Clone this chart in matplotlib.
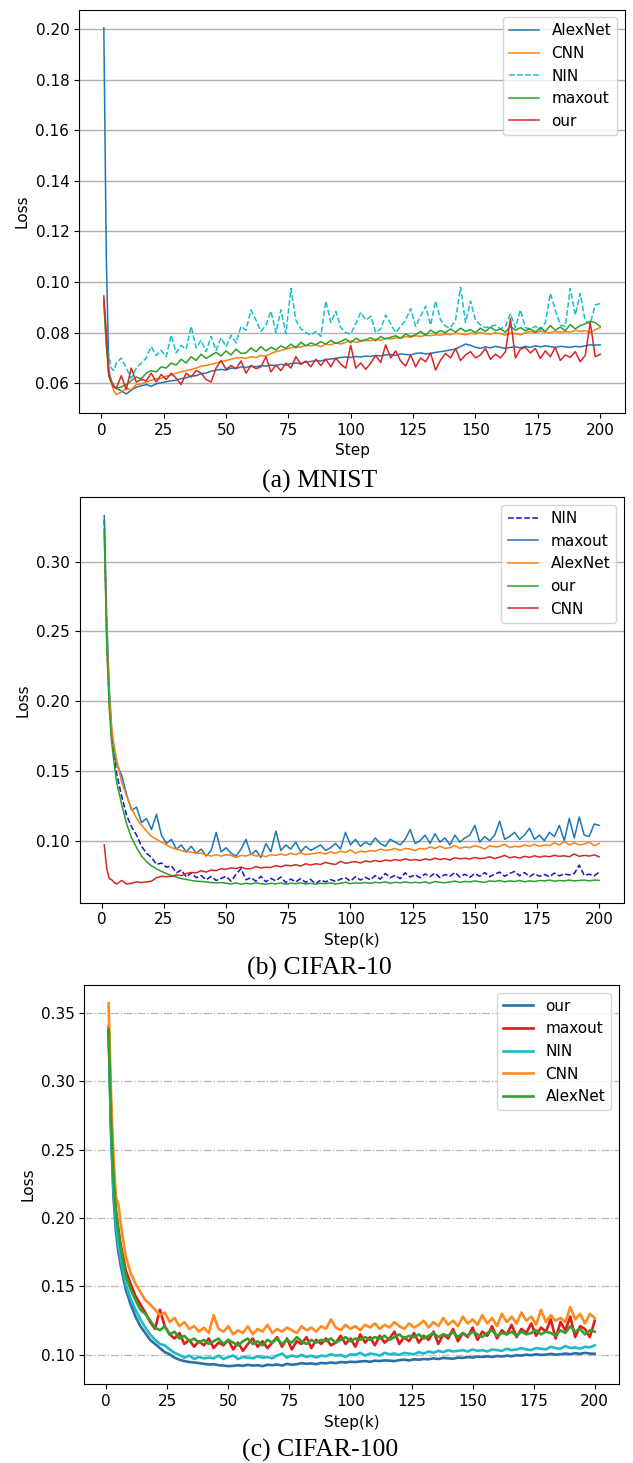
import matplotlib
matplotlib.use("Agg")
import matplotlib.pyplot as plt

# training steps (k) shared by every curve
STEPS = [1, 2, 3, 4, 5, 6] + list(range(8, 201, 2))

# ---- (a) MNIST ----
A_ALEXNET = [0.2005, 0.110, 0.065, 0.061, 0.059, 0.058,
             0.057, 0.0558, 0.0572, 0.0585, 0.059, 0.0595, 0.0588, 0.0598, 0.0602, 0.0606,
             0.061, 0.0612, 0.0618, 0.0622, 0.0628, 0.063, 0.0638, 0.064, 0.0648, 0.0652,
             0.0655, 0.0652, 0.066, 0.0658, 0.0665, 0.0662, 0.0668, 0.0665, 0.067, 0.0668,
             0.0672, 0.067, 0.0675, 0.0672, 0.0678, 0.068, 0.0678, 0.0684, 0.0686, 0.069,
             0.0688, 0.0694, 0.0696, 0.0698, 0.0702, 0.0704, 0.0702, 0.0706, 0.0704, 0.0708,
             0.0706, 0.071, 0.0708, 0.0712, 0.0714, 0.071, 0.0716, 0.0714, 0.0712, 0.0718,
             0.072, 0.0716, 0.0718, 0.0722, 0.0725, 0.0728, 0.0732, 0.0735, 0.0745, 0.0755,
             0.075, 0.0742, 0.0738, 0.0744, 0.074, 0.0746, 0.0742, 0.0738, 0.0742, 0.0744,
             0.074, 0.0746, 0.0742, 0.0748, 0.0744, 0.0748, 0.0745, 0.0742, 0.0746, 0.0744,
             0.0742, 0.0746, 0.0744, 0.0748, 0.0752, 0.0751, 0.0752]
A_CNN = [0.0925, 0.075, 0.063, 0.060, 0.057, 0.0555,
         0.0565, 0.058, 0.0575, 0.0595, 0.0598, 0.0605, 0.0612, 0.0618, 0.062, 0.0628,
         0.0632, 0.064, 0.0645, 0.065, 0.0655, 0.066, 0.0668, 0.067, 0.0675, 0.068,
         0.0685, 0.069, 0.0695, 0.070, 0.0702, 0.0698, 0.0705, 0.0702, 0.071, 0.0708,
         0.0718, 0.0725, 0.073, 0.0735, 0.074, 0.0745, 0.0742, 0.075, 0.0748, 0.0752,
         0.0745, 0.0755, 0.0752, 0.076, 0.0755, 0.0762, 0.0768, 0.0762, 0.0765, 0.077,
         0.0768, 0.0775, 0.077, 0.0778, 0.0775, 0.078, 0.0778, 0.0785, 0.0782, 0.0788,
         0.0785, 0.079, 0.0788, 0.0792, 0.079, 0.0795, 0.0792, 0.0798, 0.0795, 0.0792,
         0.0798, 0.0795, 0.080, 0.0796, 0.0794, 0.080, 0.0796, 0.079, 0.0798, 0.0795,
         0.0792, 0.080, 0.0805, 0.080, 0.0806, 0.0802, 0.080, 0.0805, 0.0802, 0.0805,
         0.0802, 0.081, 0.0805, 0.0808, 0.080, 0.0812, 0.082]
A_NIN = [0.092, 0.0765, 0.071, 0.066, 0.065, 0.068,
         0.070, 0.066, 0.062, 0.066, 0.068, 0.070, 0.0745, 0.071, 0.073, 0.0705,
         0.079, 0.072, 0.075, 0.0735, 0.0825, 0.074, 0.077, 0.0725, 0.0785, 0.073,
         0.078, 0.0745, 0.079, 0.076, 0.0825, 0.081, 0.089, 0.085, 0.0805, 0.083,
         0.0885, 0.080, 0.089, 0.0795, 0.0975, 0.085, 0.0815, 0.080, 0.079, 0.0805,
         0.0785, 0.0925, 0.084, 0.0885, 0.082, 0.080, 0.0795, 0.0835, 0.088, 0.085,
         0.0865, 0.080, 0.0815, 0.087, 0.0835, 0.080, 0.0825, 0.085, 0.0895, 0.0825,
         0.0865, 0.0905, 0.083, 0.0925, 0.085, 0.0825, 0.082, 0.085, 0.098, 0.084,
         0.0925, 0.085, 0.083, 0.082, 0.0825, 0.083, 0.0815, 0.0825, 0.0875, 0.082,
         0.089, 0.082, 0.0815, 0.0825, 0.081, 0.084, 0.0955, 0.089, 0.083, 0.0825,
         0.0975, 0.087, 0.0955, 0.0845, 0.0835, 0.091, 0.0915]
A_MAXOUT = [0.093, 0.076, 0.064, 0.061, 0.059, 0.058,
            0.0585, 0.0595, 0.061, 0.0625, 0.0618, 0.064, 0.065, 0.0645, 0.0665, 0.066,
            0.068, 0.0672, 0.0695, 0.068, 0.0705, 0.069, 0.0715, 0.0698, 0.071, 0.0722,
            0.0708, 0.0728, 0.0712, 0.0735, 0.0718, 0.072, 0.074, 0.0725, 0.0745, 0.0728,
            0.0742, 0.0732, 0.0748, 0.0738, 0.0755, 0.074, 0.0762, 0.0748, 0.076, 0.0752,
            0.0765, 0.0755, 0.077, 0.0758, 0.0765, 0.0775, 0.076, 0.0778, 0.0768, 0.0772,
            0.078, 0.0768, 0.0785, 0.0775, 0.0782, 0.0788, 0.0778, 0.0795, 0.0785, 0.0792,
            0.0805, 0.079, 0.081, 0.0798, 0.0808, 0.080, 0.0815, 0.0802, 0.0818, 0.0805,
            0.0812, 0.080, 0.0818, 0.0805, 0.0822, 0.0808, 0.0815, 0.0802, 0.0825, 0.081,
            0.082, 0.0808, 0.0815, 0.0802, 0.082, 0.0805, 0.0828, 0.081, 0.0822, 0.0808,
            0.0832, 0.0815, 0.0828, 0.0835, 0.0845, 0.084, 0.0825]
A_OUR = [0.0945, 0.080, 0.063, 0.0605, 0.0585, 0.058,
         0.063, 0.0575, 0.066, 0.0605, 0.0615, 0.061, 0.064, 0.0605, 0.0635, 0.0615,
         0.064, 0.062, 0.0595, 0.064, 0.0625, 0.065, 0.064, 0.0615, 0.0605, 0.066,
         0.069, 0.0655, 0.067, 0.0658, 0.0688, 0.064, 0.067, 0.0658, 0.0665, 0.0705,
         0.0645, 0.0672, 0.065, 0.068, 0.066, 0.0705, 0.0675, 0.0688, 0.0665, 0.0695,
         0.067, 0.0695, 0.0665, 0.070, 0.0675, 0.066, 0.075, 0.066, 0.068, 0.0655,
         0.068, 0.071, 0.0682, 0.0752, 0.070, 0.0728, 0.0688, 0.0668, 0.0712, 0.0665,
         0.070, 0.0685, 0.072, 0.0652, 0.0692, 0.0718, 0.070, 0.0738, 0.069, 0.0712,
         0.0725, 0.070, 0.0712, 0.0738, 0.0695, 0.0715, 0.070, 0.0725, 0.0855, 0.070,
         0.0735, 0.0742, 0.072, 0.0738, 0.0698, 0.0728, 0.0705, 0.0742, 0.069, 0.0712,
         0.0702, 0.0725, 0.0685, 0.071, 0.084, 0.0705, 0.0715]

# ---- (b) CIFAR-10 ----
B_NIN = [0.330, 0.245, 0.20, 0.175, 0.16, 0.148,
         0.132, 0.118, 0.110, 0.104, 0.096, 0.091, 0.088, 0.083, 0.084, 0.081,
         0.082, 0.077, 0.079, 0.074, 0.077, 0.0735, 0.075, 0.072, 0.0745, 0.0715,
         0.073, 0.0745, 0.071, 0.076, 0.080, 0.072, 0.0735, 0.071, 0.0745, 0.0705,
         0.073, 0.0712, 0.074, 0.070, 0.0725, 0.0705, 0.0728, 0.0702, 0.0722, 0.069,
         0.0718, 0.0705, 0.0722, 0.0708, 0.0725, 0.0735, 0.071, 0.0742, 0.0718, 0.0738,
         0.072, 0.075, 0.0725, 0.0765, 0.0735, 0.0752, 0.0728, 0.077, 0.074, 0.0755,
         0.0735, 0.0762, 0.0742, 0.0768, 0.0735, 0.0758, 0.0745, 0.0772, 0.074, 0.076,
         0.0738, 0.0765, 0.0745, 0.0772, 0.0742, 0.076, 0.0775, 0.0745, 0.0765, 0.078,
         0.0748, 0.0772, 0.0742, 0.0765, 0.0745, 0.0758, 0.0742, 0.0768, 0.0748, 0.0762,
         0.0755, 0.0765, 0.0825, 0.0752, 0.076, 0.0748, 0.0775]
B_MAXOUT = [0.333, 0.26, 0.21, 0.18, 0.162, 0.155,
            0.147, 0.133, 0.122, 0.124, 0.113, 0.116, 0.108, 0.119, 0.104, 0.098,
            0.101, 0.094, 0.097, 0.092, 0.096, 0.091, 0.094, 0.089, 0.093, 0.106,
            0.092, 0.095, 0.091, 0.089, 0.094, 0.101, 0.090, 0.093, 0.088, 0.098,
            0.092, 0.107, 0.093, 0.097, 0.094, 0.099, 0.092, 0.096, 0.093, 0.095,
            0.097, 0.093, 0.095, 0.098, 0.094, 0.106, 0.097, 0.101, 0.096, 0.099,
            0.097, 0.102, 0.098, 0.096, 0.101, 0.099, 0.097, 0.101, 0.108, 0.098,
            0.100, 0.104, 0.098, 0.105, 0.099, 0.102, 0.097, 0.104, 0.099, 0.102,
            0.104, 0.111, 0.099, 0.103, 0.100, 0.104, 0.114, 0.101, 0.103, 0.106,
            0.101, 0.104, 0.109, 0.101, 0.104, 0.100, 0.106, 0.103, 0.111, 0.100,
            0.116, 0.102, 0.117, 0.104, 0.103, 0.112, 0.111]
B_ALEXNET = [0.320, 0.25, 0.205, 0.18, 0.168, 0.158,
             0.142, 0.132, 0.123, 0.116, 0.111, 0.107, 0.103, 0.101, 0.099, 0.097,
             0.095, 0.094, 0.093, 0.092, 0.092, 0.091, 0.091, 0.090, 0.089, 0.090,
             0.089, 0.090, 0.0895, 0.088, 0.0895, 0.089, 0.0905, 0.089, 0.0895, 0.0885,
             0.090, 0.0895, 0.0905, 0.0895, 0.091, 0.090, 0.0915, 0.090, 0.0905, 0.091,
             0.0915, 0.0905, 0.092, 0.091, 0.0925, 0.0915, 0.0935, 0.091, 0.0925, 0.092,
             0.093, 0.0925, 0.094, 0.093, 0.0935, 0.0945, 0.093, 0.0945, 0.094, 0.093,
             0.0945, 0.094, 0.0955, 0.0945, 0.096, 0.0945, 0.095, 0.0965, 0.0945, 0.0955,
             0.095, 0.0965, 0.0955, 0.094, 0.0965, 0.0955, 0.096, 0.0975, 0.095, 0.096,
             0.0955, 0.097, 0.096, 0.0975, 0.096, 0.097, 0.0965, 0.0985, 0.097, 0.0995,
             0.097, 0.0985, 0.097, 0.0975, 0.099, 0.0965, 0.098]
B_OUR = [0.322, 0.24, 0.195, 0.17, 0.155, 0.142,
         0.126, 0.112, 0.102, 0.095, 0.089, 0.085, 0.082, 0.080, 0.078, 0.0765,
         0.075, 0.074, 0.0728, 0.0722, 0.0715, 0.071, 0.0708, 0.0705, 0.070, 0.0698,
         0.070, 0.0695, 0.069, 0.0698, 0.0688, 0.0695, 0.069, 0.0698, 0.0692, 0.0688,
         0.0695, 0.069, 0.0698, 0.0688, 0.0695, 0.0692, 0.0698, 0.069, 0.0695, 0.0688,
         0.0695, 0.0692, 0.0698, 0.069, 0.0695, 0.0702, 0.0692, 0.0698, 0.0695, 0.070,
         0.0694, 0.0702, 0.0698, 0.0705, 0.0695, 0.0702, 0.0698, 0.0705, 0.0698, 0.0702,
         0.0698, 0.0705, 0.0695, 0.0708, 0.0702, 0.0698, 0.0705, 0.071, 0.0702, 0.0708,
         0.0704, 0.0712, 0.0705, 0.0702, 0.0712, 0.0708, 0.0715, 0.0705, 0.0712, 0.0708,
         0.0715, 0.0705, 0.0712, 0.0708, 0.0715, 0.0712, 0.0718, 0.071, 0.0715, 0.0712,
         0.0718, 0.0712, 0.0715, 0.0718, 0.0712, 0.0718, 0.0716]
B_CNN = [0.097, 0.080, 0.073, 0.072, 0.070, 0.069,
         0.0715, 0.069, 0.0695, 0.0705, 0.070, 0.0705, 0.071, 0.0735, 0.0745, 0.0742,
         0.0745, 0.0755, 0.075, 0.0765, 0.0772, 0.077, 0.0785, 0.0775, 0.079, 0.0785,
         0.080, 0.0795, 0.0805, 0.080, 0.0812, 0.0798, 0.080, 0.0815, 0.0805, 0.081,
         0.0808, 0.0822, 0.0812, 0.0825, 0.082, 0.0828, 0.0818, 0.0835, 0.0825, 0.0835,
         0.083, 0.0845, 0.0835, 0.083, 0.0852, 0.0838, 0.0845, 0.085, 0.084, 0.0855,
         0.0848, 0.0858, 0.085, 0.0862, 0.0855, 0.0865, 0.0858, 0.087, 0.086, 0.0865,
         0.0858, 0.087, 0.0862, 0.0875, 0.0865, 0.0872, 0.0862, 0.0878, 0.087, 0.0875,
         0.0868, 0.088, 0.0872, 0.0875, 0.0885, 0.0872, 0.0882, 0.0895, 0.0878, 0.0885,
         0.0875, 0.0888, 0.088, 0.0892, 0.0882, 0.089, 0.0885, 0.0895, 0.0888, 0.0892,
         0.0885, 0.0905, 0.0888, 0.0895, 0.089, 0.0898, 0.0885]

# ---- (c) CIFAR-100 ----
C_OUR = [0.338, 0.26, 0.215, 0.19, 0.175, 0.165,
         0.148, 0.137, 0.128, 0.121, 0.116, 0.111, 0.108, 0.105, 0.102, 0.1005,
         0.098, 0.0965, 0.0955, 0.0948, 0.0945, 0.094, 0.0935, 0.093, 0.0932, 0.0925,
         0.0922, 0.0918, 0.092, 0.0925, 0.092, 0.0928, 0.0922, 0.0925, 0.0918, 0.0928,
         0.0925, 0.093, 0.0922, 0.0935, 0.0928, 0.0932, 0.094, 0.0935, 0.0938, 0.0932,
         0.0942, 0.0938, 0.0945, 0.094, 0.0948, 0.0945, 0.095, 0.0948, 0.0952, 0.0955,
         0.095, 0.0958, 0.0955, 0.096, 0.0958, 0.0955, 0.0962, 0.0965, 0.096, 0.0968,
         0.0965, 0.097, 0.0968, 0.0975, 0.097, 0.0978, 0.0975, 0.0972, 0.098, 0.0978,
         0.0985, 0.098, 0.0988, 0.0985, 0.099, 0.0985, 0.0992, 0.0988, 0.0995, 0.099,
         0.0998, 0.0995, 0.1002, 0.0998, 0.1005, 0.100, 0.1002, 0.1008, 0.1002, 0.1005,
         0.101, 0.1005, 0.1012, 0.1008, 0.1015, 0.101, 0.1008]
C_MAXOUT = [0.34, 0.275, 0.235, 0.205, 0.192, 0.18,
            0.162, 0.152, 0.143, 0.137, 0.131, 0.124, 0.119, 0.133, 0.121, 0.115,
            0.112, 0.116, 0.108, 0.111, 0.106, 0.110, 0.107, 0.112, 0.105, 0.109,
            0.107, 0.111, 0.104, 0.109, 0.103, 0.108, 0.112, 0.106, 0.110, 0.105,
            0.109, 0.113, 0.106, 0.112, 0.104, 0.110, 0.108, 0.113, 0.105, 0.111,
            0.108, 0.112, 0.107, 0.109, 0.114, 0.108, 0.112, 0.106, 0.115, 0.109,
            0.113, 0.107, 0.114, 0.109, 0.112, 0.117, 0.108, 0.113, 0.110, 0.116,
            0.109, 0.114, 0.111, 0.117, 0.108, 0.115, 0.112, 0.119, 0.110, 0.116,
            0.113, 0.120, 0.111, 0.117, 0.114, 0.121, 0.112, 0.118, 0.115, 0.122,
            0.113, 0.119, 0.116, 0.123, 0.114, 0.120, 0.117, 0.126, 0.112, 0.124,
            0.118, 0.128, 0.113, 0.121, 0.119, 0.113, 0.125]
C_NIN = [0.335, 0.265, 0.22, 0.195, 0.18, 0.17,
         0.152, 0.141, 0.133, 0.126, 0.12, 0.115, 0.111, 0.108, 0.107, 0.104,
         0.1015, 0.100, 0.098, 0.0995, 0.097, 0.0985, 0.0975, 0.098, 0.0975, 0.0995,
         0.097, 0.0985, 0.0995, 0.097, 0.0985, 0.098, 0.0975, 0.099, 0.098, 0.0985,
         0.0975, 0.0995, 0.101, 0.098, 0.0995, 0.0985, 0.100, 0.0985, 0.0995, 0.098,
         0.0995, 0.099, 0.1005, 0.0995, 0.100, 0.0985, 0.1005, 0.100, 0.1015, 0.0995,
         0.101, 0.1005, 0.0995, 0.1015, 0.1005, 0.101, 0.100, 0.1015, 0.101, 0.1005,
         0.102, 0.101, 0.1025, 0.1015, 0.103, 0.102, 0.1035, 0.1025, 0.103, 0.1035,
         0.1025, 0.104, 0.103, 0.1035, 0.1025, 0.104, 0.1035, 0.103, 0.1045, 0.1035,
         0.104, 0.105, 0.104, 0.1035, 0.105, 0.1045, 0.104, 0.106, 0.105, 0.1045,
         0.1065, 0.105, 0.1055, 0.1045, 0.106, 0.1055, 0.107]
C_CNN = [0.357, 0.29, 0.245, 0.215, 0.21, 0.195,
         0.172, 0.16, 0.152, 0.146, 0.14, 0.137, 0.133, 0.129, 0.131, 0.124,
         0.127, 0.121, 0.124, 0.119, 0.121, 0.117, 0.120, 0.116, 0.129, 0.119,
         0.117, 0.121, 0.115, 0.118, 0.116, 0.121, 0.115, 0.119, 0.117, 0.122,
         0.116, 0.119, 0.117, 0.120, 0.118, 0.116, 0.121, 0.118, 0.120, 0.117,
         0.121, 0.119, 0.126, 0.120, 0.118, 0.122, 0.119, 0.121, 0.118, 0.122,
         0.120, 0.123, 0.119, 0.122, 0.120, 0.124, 0.121, 0.119, 0.123, 0.120,
         0.122, 0.125, 0.120, 0.124, 0.121, 0.127, 0.122, 0.125, 0.121, 0.128,
         0.123, 0.126, 0.122, 0.129, 0.123, 0.127, 0.121, 0.130, 0.124, 0.128,
         0.123, 0.131, 0.125, 0.128, 0.122, 0.133, 0.124, 0.129, 0.125, 0.127,
         0.124, 0.135, 0.126, 0.130, 0.123, 0.130, 0.127]
C_ALEXNET = [0.338, 0.27, 0.23, 0.205, 0.19, 0.178,
             0.158, 0.148, 0.140, 0.133, 0.130, 0.125, 0.120, 0.118, 0.121, 0.115,
             0.117, 0.112, 0.114, 0.110, 0.112, 0.109, 0.111, 0.108, 0.110, 0.112,
             0.108, 0.111, 0.109, 0.107, 0.110, 0.112, 0.108, 0.110, 0.107, 0.111,
             0.109, 0.112, 0.108, 0.111, 0.109, 0.113, 0.110, 0.108, 0.111, 0.109,
             0.111, 0.110, 0.112, 0.109, 0.111, 0.113, 0.110, 0.112, 0.111, 0.113,
             0.111, 0.113, 0.112, 0.114, 0.111, 0.113, 0.115, 0.112, 0.114, 0.113,
             0.115, 0.112, 0.114, 0.116, 0.113, 0.115, 0.114, 0.117, 0.113, 0.116,
             0.114, 0.117, 0.115, 0.113, 0.116, 0.118, 0.114, 0.116, 0.115, 0.117,
             0.114, 0.117, 0.115, 0.116, 0.118, 0.115, 0.117, 0.116, 0.114, 0.118,
             0.116, 0.121, 0.117, 0.119, 0.115, 0.118, 0.117]

TAB_BLUE, TAB_ORANGE, TAB_GREEN, TAB_RED = "#1f77b4", "#ff7f0e", "#2ca02c", "#d62728"

plt.rcParams["font.family"] = "DejaVu Sans"
fig = plt.figure(figsize=(6.33, 14.63), dpi=100)

ax_a = fig.add_axes([0.1248, 0.7177, 0.8626, 0.2758])
ax_b = fig.add_axes([0.1256, 0.3830, 0.8600, 0.2771])
ax_c = fig.add_axes([0.1332, 0.0538, 0.8447, 0.2729])

# (a)
ax_a.plot(STEPS, A_ALEXNET, color=TAB_BLUE, lw=1.1, label="AlexNet")
ax_a.plot(STEPS, A_CNN, color=TAB_ORANGE, lw=1.1, label="CNN")
ax_a.plot(STEPS, A_NIN, color="#17becf", lw=1.1, ls="--", label="NIN")
ax_a.plot(STEPS, A_MAXOUT, color=TAB_GREEN, lw=1.1, label="maxout")
ax_a.plot(STEPS, A_OUR, color=TAB_RED, lw=1.1, label="our")
ax_a.set_xlabel("Step", fontsize=11)

# (b)
ax_b.plot(STEPS, B_NIN, color="#1515c8", lw=1.1, ls="--", label="NIN")
ax_b.plot(STEPS, B_MAXOUT, color=TAB_BLUE, lw=1.1, label="maxout")
ax_b.plot(STEPS, B_ALEXNET, color=TAB_ORANGE, lw=1.1, label="AlexNet")
ax_b.plot(STEPS, B_OUR, color=TAB_GREEN, lw=1.1, label="our")
ax_b.plot(STEPS, B_CNN, color=TAB_RED, lw=1.1, label="CNN")
ax_b.set_xlabel("Step(k)", fontsize=11)

# (c)
ax_c.plot(STEPS, C_OUR, color="#2c6ea6", lw=1.9, label="our")
ax_c.plot(STEPS, C_MAXOUT, color="#e31a1c", lw=1.9, label="maxout")
ax_c.plot(STEPS, C_NIN, color="#1fb9c9", lw=1.9, label="NIN")
ax_c.plot(STEPS, C_CNN, color="#ff8a1f", lw=1.9, label="CNN")
ax_c.plot(STEPS, C_ALEXNET, color="#33a02c", lw=1.9, label="AlexNet")
ax_c.set_xlabel("Step(k)", fontsize=11)

for ax in (ax_a, ax_b):
    ax.grid(axis="y", color="#b0b0b0", lw=1.0)
ax_c.grid(axis="y", color="#b8b8b8", lw=0.9, ls="-.")

for ax in (ax_a, ax_b, ax_c):
    ax.set_axisbelow(True)
    ax.set_ylabel("Loss", fontsize=11)
    ax.tick_params(labelsize=11)
    ax.set_xticks([0, 25, 50, 75, 100, 125, 150, 175, 200])
    ax.legend(loc="upper right", fontsize=11)

captions = [(0.6712, "(a) MNIST"), (0.3377, "(b) CIFAR-10"), (0.0085, "(c) CIFAR-100")]
for y, txt in captions:
    fig.text(0.505, y, txt, ha="center", va="center", fontsize=18.5,
             family="Liberation Serif")

fig.savefig("out.png", dpi=100)
plt.close(fig)
